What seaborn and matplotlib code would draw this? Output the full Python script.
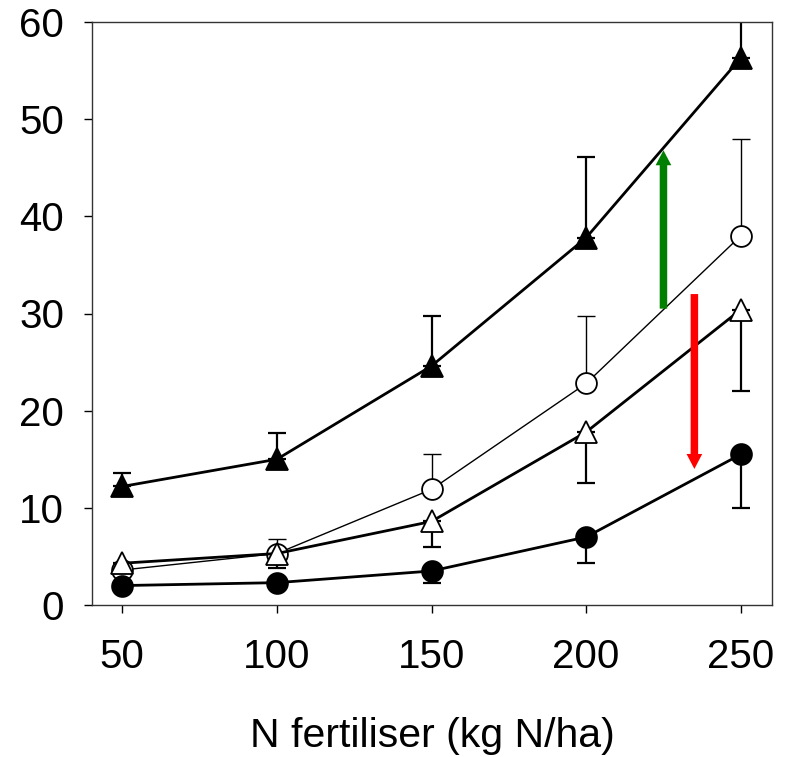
import matplotlib
matplotlib.use("Agg")
import matplotlib.pyplot as plt
import seaborn as sns
import pandas as pd
import numpy as np
from matplotlib.patches import FancyArrowPatch

sns.set_style("ticks")
plt.rcParams['font.family'] = ['Liberation Sans', 'DejaVu Sans']

n_rate = [50, 100, 150, 200, 250]

tri_filled = [12.2, 15.0, 24.6, 37.8, 56.3]
tri_filled_up = [13.6, 17.7, 29.7, 46.1, 64.0]

circ_open = [3.6, 5.3, 11.9, 22.8, 38.0]
circ_open_up = [4.3, 6.8, 15.5, 29.7, 48.0]

tri_open = [4.3, 5.3, 8.6, 17.8, 30.4]
tri_open_lo = [3.3, 3.8, 6.0, 12.6, 22.0]

circ_filled = [2.0, 2.3, 3.5, 7.0, 15.5]
circ_filled_lo = [1.8, 2.1, 2.3, 4.35, 10.0]

xlabel = "N fertiliser (kg N/ha)"
yticks = [0, 10, 20, 30, 40, 50, 60]

fig = plt.figure(figsize=(7.89, 7.57), dpi=100)
ax = fig.add_axes([92/789, 1-605/757, (772-92)/789, (605-22)/757])

def err(ax, y, bound, lw, up=True):
    y = np.array(y); b = np.array(bound)
    if up:
        yerr = [np.zeros_like(y), b - y]
    else:
        yerr = [y - b, np.zeros_like(y)]
    ax.errorbar(n_rate, y, yerr=yerr, fmt='none', ecolor='black',
                elinewidth=lw, capsize=6.5, capthick=lw, zorder=2)

err(ax, tri_filled, tri_filled_up, 1.6, up=True)
err(ax, circ_open, circ_open_up, 1.0, up=True)
err(ax, tri_open, tri_open_lo, 1.6, up=False)
err(ax, circ_filled, circ_filled_lo, 1.6, up=False)

series = [
    (circ_open, 'o', 'white', 1.0),
    (tri_open, '^', 'white', 2.0),
    (circ_filled, 'o', 'black', 2.0),
    (tri_filled, '^', 'black', 2.0),
]
for vals, mk, fc, lw in series:
    df = pd.DataFrame({'x': n_rate, 'y': vals})
    sns.lineplot(data=df, x='x', y='y', ax=ax, color='black', linewidth=lw,
                 marker=mk, markersize=16 if mk == '^' else 15,
                 markerfacecolor=fc, markeredgecolor='black',
                 markeredgewidth=1.3, zorder=3)

for x0, y0, y1, col in [(225, 30.5, 46.8, '#008000'), (235, 32.0, 14.0, '#ff0000')]:
    arr = FancyArrowPatch((x0, y0), (x0, y1),
                          arrowstyle='simple,head_length=10.8,head_width=11.3,tail_width=5.4',
                          mutation_scale=1, color=col, lw=0,
                          shrinkA=0, shrinkB=0, zorder=4)
    ax.add_patch(arr)

ax.set_xlim(40.2, 260.1)
ax.set_ylim(0, 60)
ax.set_xticks(n_rate)
ax.set_yticks(yticks)
ax.tick_params(axis='both', labelsize=29, length=6, width=1, direction='out',
               colors='black')
ax.tick_params(axis='y', pad=14)
ax.tick_params(axis='x', pad=18)
ax.set_xlabel(xlabel, fontsize=29.5, labelpad=29, color='black')
ax.set_ylabel('')
for s in ax.spines.values():
    s.set_visible(True)
    s.set_color('#333333')
    s.set_linewidth(1.0)

fig.savefig('out.png', dpi=100)
